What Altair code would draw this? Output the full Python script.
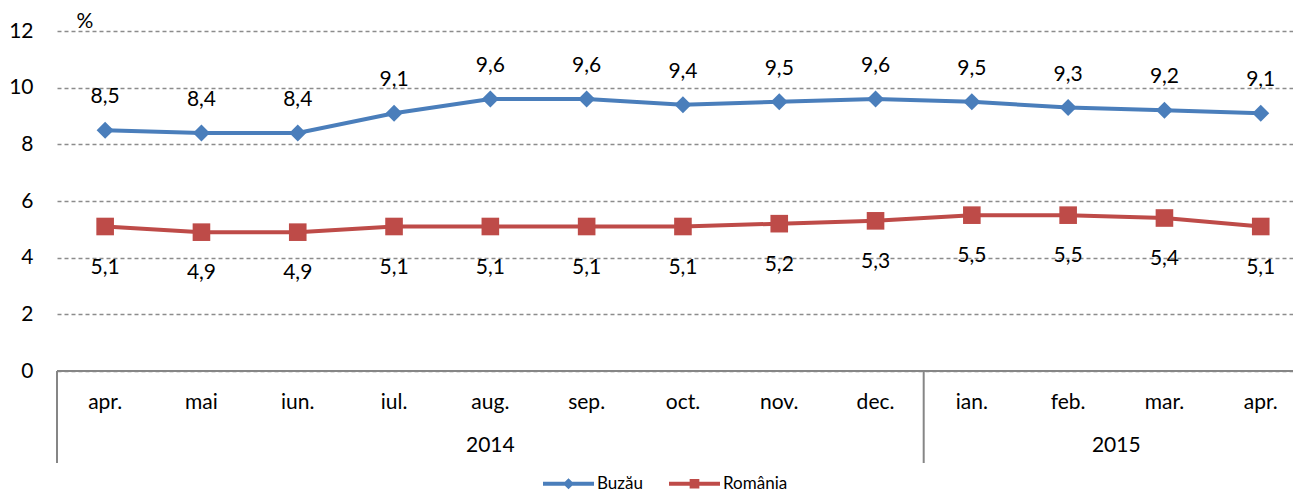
import altair as alt
import pandas as pd

months = ["apr.", "mai", "iun.", "iul.", "aug.", "sep.", "oct.", "nov.", "dec.",
          "ian.", "feb.", "mar.", "apr."]
buzau = [8.5, 8.4, 8.4, 9.1, 9.6, 9.6, 9.4, 9.5, 9.6, 9.5, 9.3, 9.2, 9.1]
romania = [5.1, 4.9, 4.9, 5.1, 5.1, 5.1, 5.1, 5.2, 5.3, 5.5, 5.5, 5.4, 5.1]
years = ["2014", "2015"]
year_centers = [4, 10.5]
separators = [-0.5, 8.5]
series_names = ["Buzău", "România"]
series_colors = ["#4A7EBB", "#BE4B48"]

FONT = "Lato"
FS = 21

rows = []
for i, m in enumerate(months):
    rows.append({"idx": i, "month": m, "series": "Buzău", "value": buzau[i],
                 "label": f"{buzau[i]:.1f}".replace(".", ",")})
    rows.append({"idx": i, "month": m, "series": "România", "value": romania[i],
                 "label": f"{romania[i]:.1f}".replace(".", ",")})
df = pd.DataFrame(rows)
month_df = pd.DataFrame({"idx": list(range(len(months))), "month": months})
year_df = pd.DataFrame({"pos": year_centers, "year": years})
sep_df = pd.DataFrame({"pos": separators})

W, H = 1236, 340
xscale = alt.Scale(domain=[-0.5, 12.335], nice=False, zero=False)
yscale = alt.Scale(domain=[0, 12], nice=False)

X = alt.X("idx:Q", scale=xscale, axis=None)
Y = alt.Y("value:Q", scale=yscale,
          axis=alt.Axis(values=[0, 2, 4, 6, 8, 10, 12], title=None, grid=True,
                        gridDash=[4, 3], gridColor="#8c8c8c", gridWidth=1.3,
                        domain=False, ticks=False, labelPadding=24,
                        labelFont=FONT, labelFontSize=FS, labelColor="#000"))

base = alt.Chart(df)
b_only = base.transform_filter(alt.datum.series == "Buzău")
r_only = base.transform_filter(alt.datum.series == "România")

line_b = b_only.mark_line(strokeWidth=4, color=series_colors[0]).encode(x=X, y=Y)
line_r = r_only.mark_line(strokeWidth=4, color=series_colors[1]).encode(x=X, y=Y)

pts_b = b_only.mark_point(
    shape="diamond", filled=True, size=290, opacity=1, color=series_colors[0]
).encode(x=X, y=Y)

pts_r = r_only.mark_point(
    shape="square", filled=True, size=310, opacity=1, color=series_colors[1]
).encode(x=X, y=Y)

lab_b = b_only.mark_text(
    font=FONT, fontSize=FS, color="#000", dy=-33, baseline="middle"
).encode(x=X, y=Y, text="label:N")

lab_r = r_only.mark_text(
    font=FONT, fontSize=FS, color="#000", dy=41, baseline="middle"
).encode(x=X, y=Y, text="label:N")

zero_line = alt.Chart(pd.DataFrame({"value": [0]})).mark_rule(
    color="#868686", strokeWidth=2
).encode(y=alt.Y("value:Q", scale=yscale), x=alt.value(0), x2=alt.value(W))

sep_lines = alt.Chart(sep_df).mark_rule(color="#868686", strokeWidth=2).encode(
    x=alt.X("pos:Q", scale=xscale, axis=None), y=alt.value(H), y2=alt.value(H + 92)
)

month_text = alt.Chart(month_df).mark_text(
    font=FONT, fontSize=FS, color="#000", baseline="middle"
).encode(x=alt.X("idx:Q", scale=xscale, axis=None), y=alt.value(H + 32), text="month:N")

year_text = alt.Chart(year_df).mark_text(
    font=FONT, fontSize=FS, color="#000", baseline="middle"
).encode(x=alt.X("pos:Q", scale=xscale, axis=None), y=alt.value(H + 75), text="year:N")

pct = alt.Chart(pd.DataFrame({"t": ["%"]})).mark_text(
    font=FONT, fontSize=FS, color="#000", baseline="middle"
).encode(x=alt.value(28), y=alt.value(-9), text="t:N")

buzau_sym = "M-1,-0.08H1V0.08H-1Z M0,-0.22L0.22,0L0,0.22L-0.22,0Z"
rom_sym = "M-1,-0.08H1V0.08H-1Z M-0.19,-0.19H0.19V0.19H-0.19Z"

legend_layer = base.transform_filter("false").mark_point(filled=True, opacity=1).encode(
    x=X, y=Y,
    fill=alt.Fill("series:N", scale=alt.Scale(domain=series_names, range=series_colors),
                  legend=alt.Legend(orient="none", direction="horizontal", title=None,
                                    legendX=486, legendY=427, symbolSize=2601,
                                    symbolStrokeWidth=0, labelFont=FONT, labelFontSize=17,
                                    labelColor="#000", labelOffset=3, columnPadding=26,
                                    padding=0)),
    shape=alt.Shape("series:N", scale=alt.Scale(domain=series_names, range=[buzau_sym, rom_sym])),
)

chart = alt.layer(
    zero_line, sep_lines, line_b, line_r, pts_b, pts_r, lab_b, lab_r,
    month_text, year_text, pct, legend_layer
).properties(
    width=W, height=H,
    autosize=alt.AutoSizeParams(type="none"),
    padding={"left": 49, "top": 23, "right": 0, "bottom": 125},
).configure_view(stroke=None)

chart.save("out.html", embed_options={"renderer": "svg", "actions": False})
